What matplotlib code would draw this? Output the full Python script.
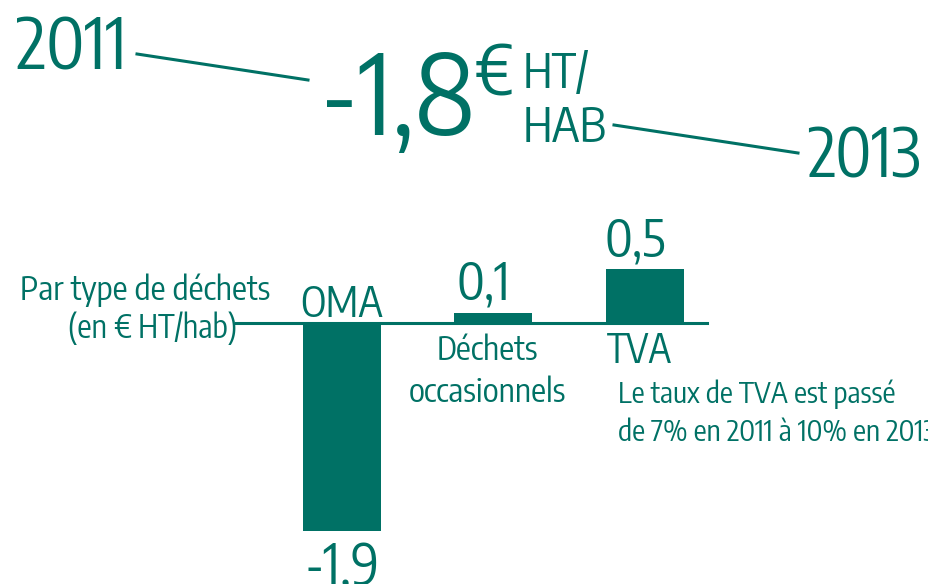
import matplotlib
matplotlib.use("Agg")
import matplotlib.pyplot as plt
from matplotlib.lines import Line2D

# données
categories = ["OMA", "Déchets\noccasionnels", "TVA"]
values = [-1.9, 0.1, 0.5]
value_labels = ["-1,9", "0,1", "0,5"]
total_label = "-1,8"
year_start = "2011"
year_end = "2013"
unit_label = "HT/\nHAB"
axis_label = "Par type de déchets"
axis_unit = "(en € HT/hab)"
note = "Le taux de TVA est passé\nde 7% en 2011 à 10% en 2013"

GREEN = "#007165"
W, H = 929, 584

plt.rcParams["font.family"] = ["Encode Sans Condensed", "Roboto Condensed", "DejaVu Sans"]
plt.rcParams["font.stretch"] = "condensed"
plt.rcParams["font.weight"] = "normal"
plt.rcParams["text.color"] = GREEN


def px(x, y):
    # pixel (depuis le haut à gauche) -> fraction de figure
    return x / W, 1 - y / H


fig = plt.figure(figsize=(W / 100, H / 100), dpi=100)
ax = fig.add_axes([0, 0, 1, 1])
ax.set_xlim(-2.257, 3.875)
ax.set_ylim(-2.39, 2.968)
ax.axis("off")

# barres + ligne de base
x = list(range(len(values)))
ax.bar(x, values, width=0.515, color=GREEN, zorder=2)
ax.axhline(0, xmin=236 / W, xmax=707 / W, color=GREEN, lw=2.2, zorder=1)

# valeurs
for i, (v, lbl) in enumerate(zip(values, value_labels)):
    if v >= 0:
        ax.annotate(lbl, (i, v), xytext=(-10, 13), textcoords="offset pixels",
                    ha="center", va="baseline", fontsize=37)
    else:
        ax.annotate(lbl, (i, v), xytext=(0, -9), textcoords="offset pixels",
                    ha="center", va="top", fontsize=40)

# catégories (va="baseline" = dernière ligne)
ax.annotate(categories[0], (0, 0), xytext=(0, 6), textcoords="offset pixels",
            ha="center", va="baseline", fontsize=30)
ax.annotate(categories[1], (1, 0), xytext=(-6, -79), textcoords="offset pixels",
            ha="center", va="baseline", fontsize=24, linespacing=1.35)
ax.annotate(categories[2], (2, 0), xytext=(-38, -40), textcoords="offset pixels",
            ha="left", va="baseline", fontsize=28)
ax.annotate(note, (2, 0), xytext=(-27, -118), textcoords="offset pixels",
            ha="left", va="baseline", fontsize=21, linespacing=1.4)

# libellé d'axe
fig.text(*px(270, 300), axis_label, ha="right", va="baseline", fontsize=24)
fig.text(*px(237, 338), axis_unit, ha="right", va="baseline", fontsize=23)

# en-tête
fig.text(*px(16, 70), year_start, ha="left", va="baseline", fontsize=51)
fig.text(*px(320, 135), total_label, ha="left", va="baseline", fontsize=80)
fig.text(*px(474, 96), "€", ha="left", va="baseline", fontsize=50)
fig.text(*px(523, 142), unit_label, ha="left", va="baseline", fontsize=34, linespacing=1.15)
fig.text(*px(807, 177), year_end, ha="left", va="baseline", fontsize=48)

for (x0, y0), (x1, y1) in [((137, 54), (308, 80)), ((614, 125), (798, 153))]:
    fx0, fy0 = px(x0, y0)
    fx1, fy1 = px(x1, y1)
    fig.add_artist(Line2D([fx0, fx1], [fy0, fy1], color=GREEN, lw=2.2,
                          transform=fig.transFigure))

fig.savefig("out.png", dpi=100, facecolor="white")
